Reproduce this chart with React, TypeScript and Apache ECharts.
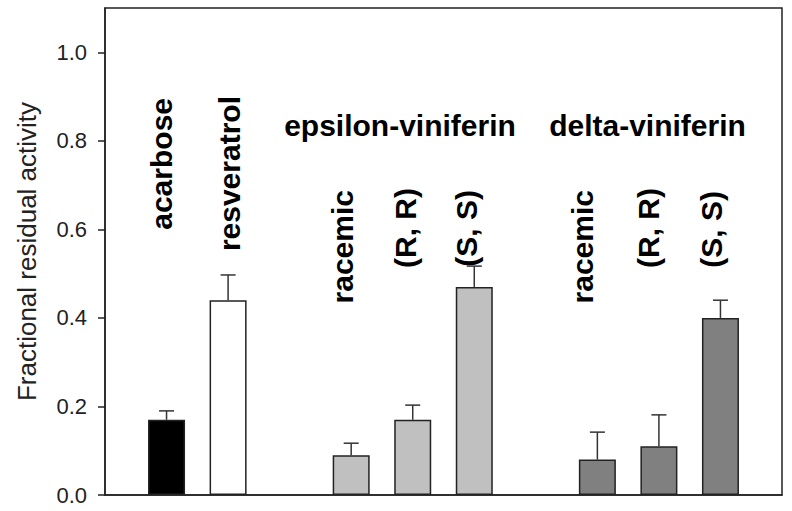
import React, { useEffect, useRef } from "react";
import * as echarts from "echarts";

// Category slots along the x axis (blank slots are gaps between groups)
const slots = [
  "start",
  "acarbose",
  "resveratrol",
  "gap1",
  "epsilon racemic",
  "epsilon (R, R)",
  "epsilon (S, S)",
  "gap2",
  "delta racemic",
  "delta (R, R)",
  "delta (S, S)",
  "end",
];
// Fractional residual activity (bar heights)
const activity: (number | null)[] = [null, 0.17, 0.44, null, 0.09, 0.17, 0.47, null, 0.08, 0.11, 0.4, null];
// Upper error (SD)
const errors: (number | null)[] = [null, 0.02, 0.057, null, 0.027, 0.033, 0.047, null, 0.062, 0.071, 0.04, null];
// Text written over each bar
const barLabels = ["", "acarbose", "resveratrol", "", "racemic", "(R, R)", "(S, S)", "", "racemic", "(R, R)", "(S, S)", ""];
const groupTitles = ["epsilon-viniferin", "delta-viniferin"];
const yTicks = [0, 0.2, 0.4, 0.6, 0.8, 1.0];

// styles
const slotFills = ["", "#000000", "#ffffff", "", "#c0c0c0", "#c0c0c0", "#c0c0c0", "", "#808080", "#808080", "#808080", ""];
// label layout in pixels: [centerX, topY]
const labelLayout: Record<number, [number, number]> = {
  1: [161.5, 98],
  2: [229.5, 96],
  4: [342.5, 190],
  5: [405, 188],
  6: [466, 190],
  8: [582.5, 190],
  9: [648, 188],
  10: [711, 191],
};
const titleLayout: [number, number][] = [
  [400, 125.5],
  [647.5, 125.5],
];

const FONT = '"Liberation Sans", Arial, Helvetica, sans-serif';

export default function App() {
  const ref = useRef<HTMLDivElement>(null);
  useEffect(() => {
    if (!ref.current) return;
    const chart = echarts.init(ref.current, null, { renderer: "svg" });

    const barData = activity.map((v, i) =>
      v == null ? "-" : { value: v, itemStyle: { color: slotFills[i] } }
    );
    const errData: number[][] = [];
    activity.forEach((v, i) => {
      if (v != null && errors[i] != null) errData.push([i, v, errors[i] as number]);
    });

    const graphics: any[] = [];
    barLabels.forEach((t, i) => {
      if (!t) return;
      const [cx, top] = labelLayout[i];
      graphics.push({
        type: "text",
        x: cx,
        y: top,
        rotation: Math.PI / 2,
        silent: true,
        style: {
          text: t,
          fontSize: 30,
          fontWeight: "bold",
          fontFamily: FONT,
          fill: "#000",
          align: "right",
          verticalAlign: "middle",
        },
      });
    });
    groupTitles.forEach((t, k) => {
      const [cx, cy] = titleLayout[k];
      graphics.push({
        type: "text",
        x: cx,
        y: cy,
        silent: true,
        style: {
          text: t,
          fontSize: 30,
          fontWeight: "bold",
          fontFamily: FONT,
          fill: "#000",
          align: "center",
          verticalAlign: "middle",
        },
      });
    });

    chart.setOption({
      animation: false,
      grid: {
        left: 105,
        right: 10,
        top: 8,
        bottom: 16,
        show: true,
        borderColor: "#222",
        borderWidth: 1.5,
        backgroundColor: "transparent",
      },
      xAxis: {
        type: "category",
        data: slots,
        boundaryGap: false,
        axisLine: { show: true, lineStyle: { color: "#222", width: 1.5 } },
        axisTick: { show: false },
        axisLabel: { show: false },
        splitLine: { show: false },
      },
      yAxis: {
        type: "value",
        min: 0,
        max: 1.1,
        interval: 0.2,
        name: "Fractional residual activity",
        nameLocation: "middle",
        nameRotate: 90,
        nameGap: 65,
        nameTextStyle: { fontSize: 26, fontFamily: FONT, color: "#222" },
        axisLine: { show: true, lineStyle: { color: "#222", width: 1.5 } },
        axisTick: { show: true, inside: false, length: 7, lineStyle: { color: "#222", width: 1.5 }, customValues: yTicks },
        axisLabel: {
          customValues: yTicks,
          formatter: (v: number) => v.toFixed(1),
          fontSize: 22,
          fontFamily: FONT,
          color: "#222",
          margin: 18,
        },
        splitLine: { show: false },
      },
      series: [
        {
          type: "bar",
          data: barData,
          barWidth: 37,
          itemStyle: { borderColor: "#222", borderWidth: 1.5 },
          z: 2,
        },
        {
          type: "custom",
          data: errData,
          encode: { x: 0, y: 1 },
          z: 3,
          renderItem: (params: any, api: any) => {
            const idx = api.value(0);
            const v = api.value(1);
            const e = api.value(2);
            const p0 = api.coord([idx, v]);
            const p1 = api.coord([idx, v + e]);
            const st = { stroke: "#333", lineWidth: 1.5 };
            return {
              type: "group",
              children: [
                { type: "line", shape: { x1: p0[0], y1: p0[1], x2: p1[0], y2: p1[1] }, style: st },
                { type: "line", shape: { x1: p1[0] - 7.5, y1: p1[1], x2: p1[0] + 7.5, y2: p1[1] }, style: st },
              ],
            };
          },
        },
      ],
      graphic: graphics,
    });
    return () => chart.dispose();
  }, []);
  return (
    <div
      ref={ref}
      style={{ position: "absolute", left: 0, top: 0, width: 792, height: 511, background: "#fff" }}
    />
  );
}
